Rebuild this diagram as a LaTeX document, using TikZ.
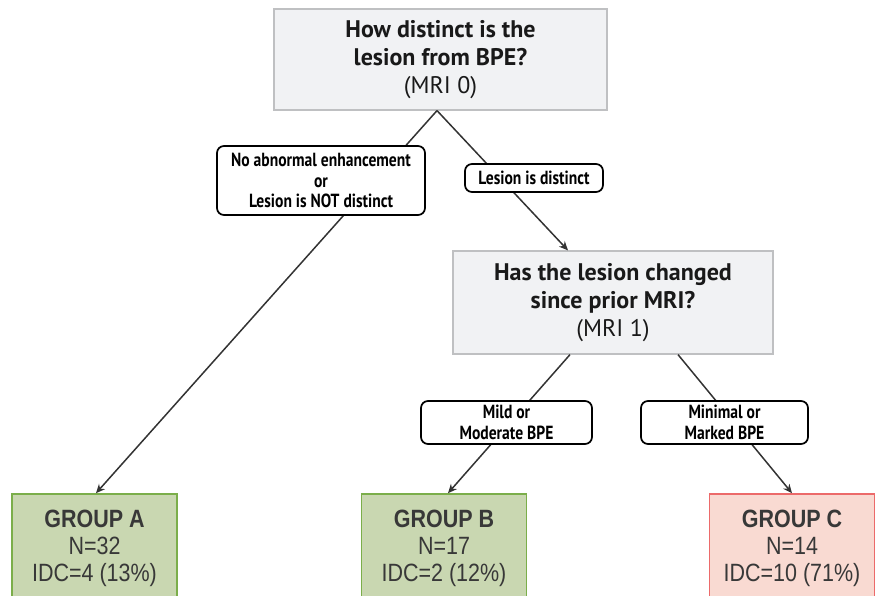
\documentclass[tikz,border=0pt]{standalone}
\usepackage{fontspec}
\setmainfont{PT Sans}
\newfontfamily\condfont[FakeStretch=0.82]{PT Sans}
\newfontfamily\grpfont[FakeStretch=0.86]{Liberation Sans}
\usepackage{xcolor}
\definecolor{ggray}{HTML}{F1F2F4}
\definecolor{ggrayline}{HTML}{BFC0C2}
\definecolor{ggreen}{HTML}{C9D7B1}
\definecolor{ggreenline}{HTML}{7BAE4A}
\definecolor{rred}{HTML}{F9DAD2}
\definecolor{rredline}{HTML}{EC6A6A}
\definecolor{ddark}{HTML}{333333}
\usepackage{tikz}
\usetikzlibrary{arrows.meta}
\usetikzlibrary{positioning}

\begin{document}
\begin{tikzpicture}[
    	x=1pt, y=-1pt,
    	question/.style={draw=ggrayline, fill=ggray, line width=1.2pt, align=center,
    	  font=\fontsize{24}{28}\selectfont, text=black!90},
    	answer/.style={draw=black, fill=white, line width=1.7pt, rounded corners=7pt,
    	  align=center, font=\condfont\bfseries\fontsize{19}{20.5}\selectfont},
    	group/.style={line width=1.6pt, align=center, minimum width=165pt, minimum height=108pt,
    	  font=\grpfont\fontsize{25}{27}\selectfont, text=black!78},
    	-->/.style={-{Stealth[length=9pt,width=8pt]}, draw=ddark, line width=1.5pt},
    ]
    \useasboundingbox (0,0) rectangle (881,596);
    \clip (0,0) rectangle (881,596);
    % question boxes
    \node[question, minimum width=333pt, minimum height=101pt] (mri0) at (440.5,59.5)
      {\textbf{How distinct is the}\\\textbf{lesion from BPE?}\\(MRI 0)};
    \node[question, minimum width=320pt, minimum height=103pt] (mri1) at (613,302.5)
      {\textbf{Has the lesion changed}\\\textbf{since prior MRI?}\\(MRI 1)};
    % outcome groups
    \node[group, draw=ggreenline, fill=ggreen] (grpA) at (94.5,548)
      {\textbf{GROUP A}\\N=32\\IDC=4 (13\%)};
    \node[group, draw=ggreenline, fill=ggreen] (grpB) at (444,548)
      {\textbf{GROUP B}\\N=17\\IDC=2 (12\%)};
    \node[group, draw=rredline, fill=rred] (grpC) at (792,548)
      {\textbf{GROUP C}\\N=14\\IDC=10 (71\%)};
    % connectors
    \draw[-->] ([xshift=-3.5pt]mri0.south) -- ([xshift=1.5pt]grpA.north);
    \draw[-->] ([xshift=-3.5pt]mri0.south) -- ([xshift=-45pt]mri1.north);
    \draw[-->] ([xshift=-43pt]mri1.south) -- ([xshift=4pt]grpB.north);
    \draw[-->] ([xshift=65pt]mri1.south) -- ([xshift=0pt]grpC.north);
    % answers on the connectors
    \node[answer, minimum width=208pt, minimum height=69pt] (notdist) at (321,180.5)
      {No abnormal enhancement\\or\\Lesion is NOT distinct};
    \node[answer, minimum width=138pt, minimum height=28pt] (dist) at (534,178)
      {Lesion is distinct};
    \node[answer, minimum width=171pt, minimum height=43pt] (mild) at (506.5,422.5)
      {Mild or\\Moderate BPE};
    \node[answer, minimum width=167pt, minimum height=43pt] (marked) at (724.5,422.5)
      {Minimal or\\Marked BPE};
\end{tikzpicture}
\end{document}
